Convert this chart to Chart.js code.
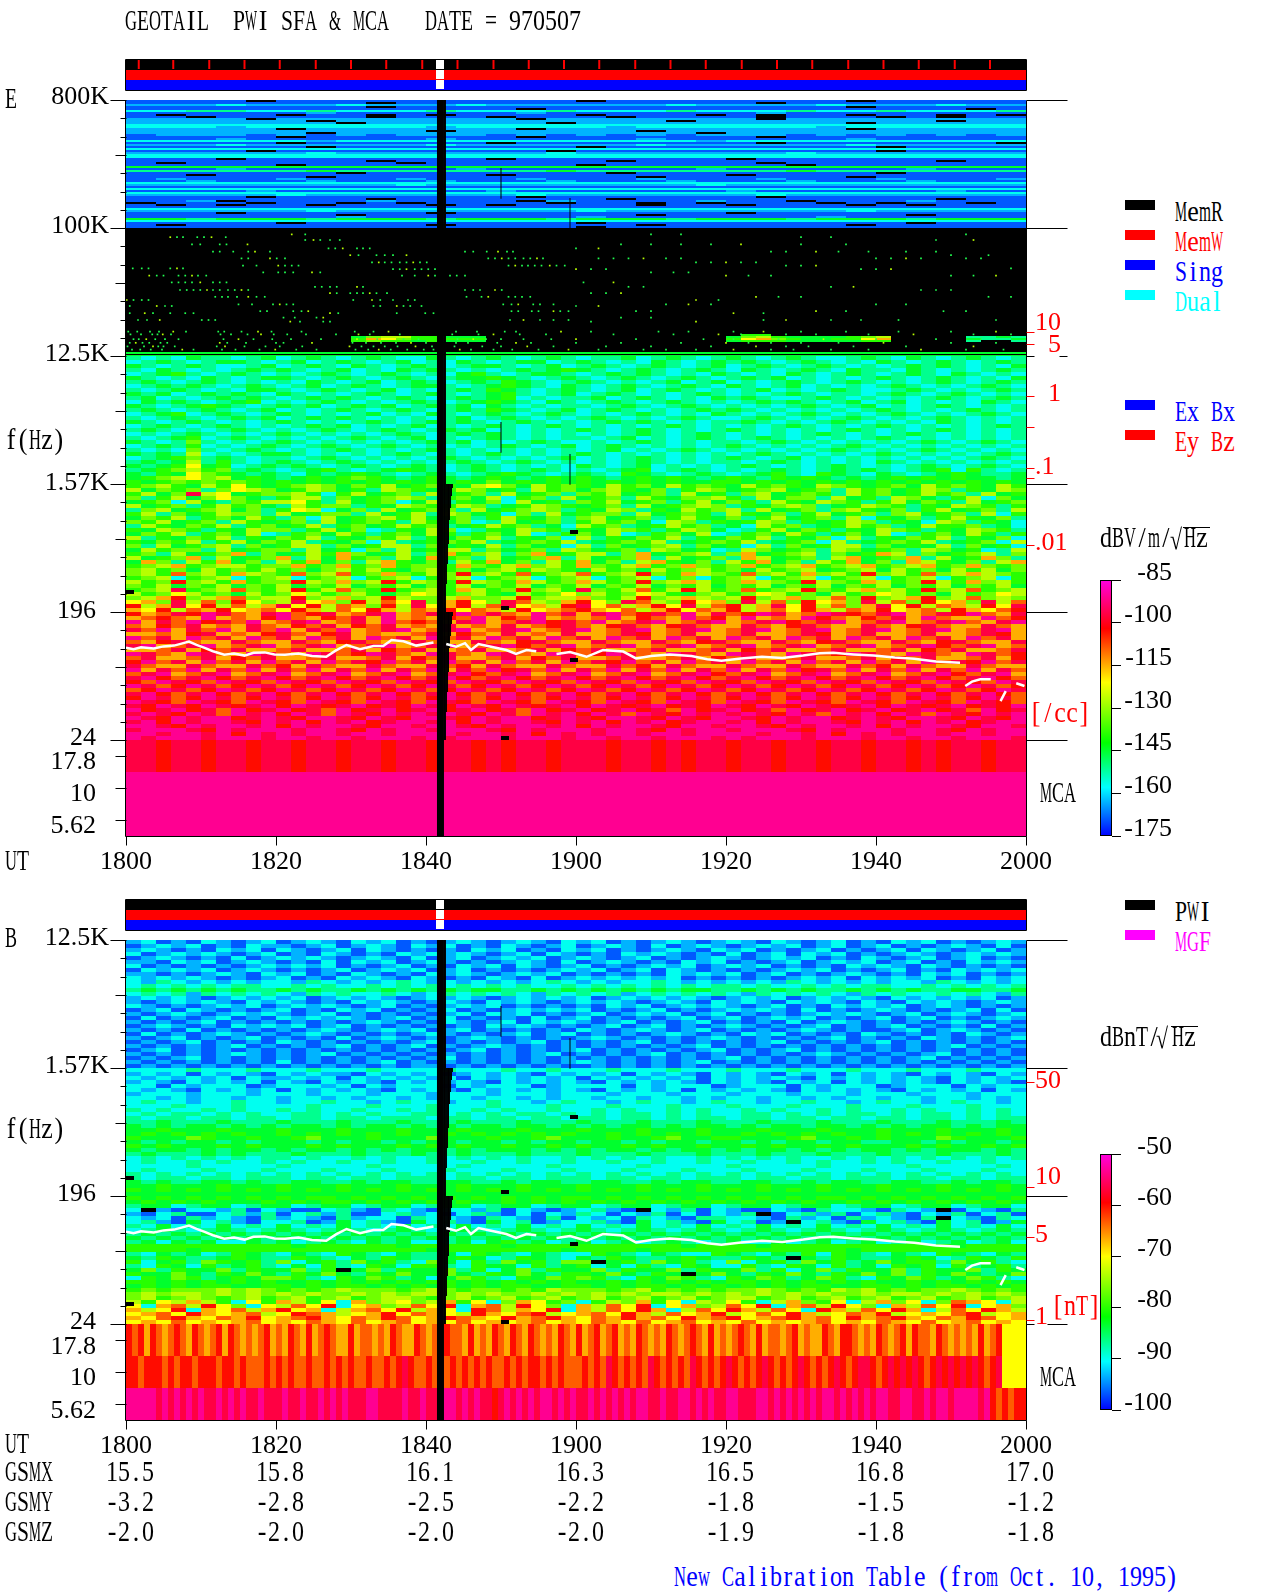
<!DOCTYPE html>
<html>
<head>
<meta charset="utf-8">
<title>GEOTAIL PWI SFA & MCA 970507</title>
<script src="https://cdn.jsdelivr.net/npm/chart.js@4"></script>
<style>
html, body { margin: 0; background: #fff; }
body { position: relative; width: 1280px; height: 1593px; overflow: hidden; }
canvas { position: absolute; left: 0; }
.txt { position: absolute; white-space: pre; font: 26px/26px 'Liberation Serif', serif; transform: scaleY(1.1); }
.txt span { display: inline-block; transform-origin: left center; }
.box { position: absolute; }
</style>
</head>
<body>
<canvas id="panel-e" width="1100" height="880" style="top:0"></canvas>
<canvas id="panel-b" width="1100" height="640" style="top:840px"></canvas>
<canvas id="bar-e" width="82" height="316" style="left:1090px;top:550px"></canvas>
<canvas id="bar-b" width="82" height="316" style="left:1090px;top:1124px"></canvas>
<script>
'use strict';

// Eje X: minutos desde 18:00. Eje Y: "canales", 1 canal = 4 px, 32 canales por banda SFA.
const utMinutes = [0, 20, 40, 60, 80, 100, 120];
const utLabels = ['1800', '1820', '1840', '1900', '1920', '1940', '2000'];
const gsmX = ['15.5', '15.8', '16.1', '16.3', '16.5', '16.8', '17.0'];
const gsmY = ['-3.2', '-2.8', '-2.5', '-2.2', '-1.8', '-1.5', '-1.2'];
const gsmZ = ['-2.0', '-2.0', '-2.0', '-2.0', '-1.9', '-1.8', '-1.8'];

const eFreqLabels = ['800K', '100K', '12.5K', '1.57K', '196  ', '24  ', '17.8  ', '10  ', '5.62  '];
const eFreqChannels = [-0.75, 31.5, 63.5, 95.75, 127.75, 159.5, 165.5, 173.5, 181.5];
const bFreqLabels = ['12.5K', '1.57K', '196  ', '24  ', '17.8  ', '10  ', '5.62  '];
const bFreqChannels = [-0.5, 31.5, 63.6, 95.5, 101.75, 109.5, 117.75];

const eDensityLabels = ['10', '  5', '  1', '.1', '.01'];
const eDensityChannels = [55.75, 61.25, 73.5, 91.75, 110.75];
const eDensityTicks = [58.1, 61.1, 74.1, 81.8, 92.1, 94.6, 111.3];
const bFieldLabels = ['50', '10', '5', '1'];
const bFieldChannels = [35.4, 59.4, 73.75, 94.25];
const bFieldTicks = [35.4, 61.75, 74.25, 95];

const eColorTicks = [-175, -160, -145, -130, -115, -100, -85];
const bColorTicks = [-100, -90, -80, -70, -60, -50];

// Rampa de color de la barra: fracción de la escala y color
const rampStops = [0, 0.19, 0.364, 0.6, 0.81, 1];
const rampColors = ['#0000ff', '#00ffff', '#00ff00', '#ffff00', '#ff0000', '#ff00e0'];

// Espectrogramas: cada carácter es un nivel 0-f de la escala, '.' es sin dato (negro)
const eHighRows = [
  '1111.1111111111.11111111.11111', '11111111.111111111111.11111111', '222322232223222222322223222322',
  '11111111.111111111111111.11111', '1111111111111.11111111111111.1', '334433433343334333433343343334',
  '111111211111121111111211111111', '1.111.11.1.1111.111.1.11.11.1.', '11.11111.111.111.1111.111.1.11',
  '2222.22222222.2222222.22222222', '222222.22222222222.22222222.22', '2222222.222222.222222222.22222',
  '333333333333333333333333333333', '333233333323333323333332333333', '22222.2222222.2222222222.22222',
  '2222222222.222222.222222222222', '222222.222222222222.2222222222', '122212121222121212122212121212',
  '11111.1111111.1111111.11111111', '111211111121111112111111211111', '333333233333333333323333333333',
  '11111.111111.11111111.1111111.', '222322222232222223222222322222', '111111.11111111.111111111.1111',
  '333333333333333333333333333333', '1111.111111111.1111111111.1111', '222222322222223222222232222222',
  '333333333333333333333333333333', '333333333333333333333333333333', '111.11111111.1111111.111111111',
  '11111111.1111111.1111111111.11', '1.1111111.11111111111.11111111', '11111.111111111.111111.1111111',
  '555555555555555555555555555555', '111211111112111111121111112111', '444444544444445444444454444444',
  '1111111.11111111.11111111.1111', '11.111111111.1111111.111111111', '111111.1111111111.111111.11111',
  '121112111211121112111211121112', '112111211121112111211121112111', '333333333333333333333333333333',
  '222222222322222222232222222222', '111111111111111111111111111111', '333333333333333333333333333333',
  '111121111111211111112111111211', '333333333333333333333333333333', '222223222222232222222322222222',
  '1111.11111111.1111111.11111111', '11111111.1111111.1111111111.11', '112.111121111.21111211.1112111',
  '.111.11.1.1111.11.1.111.1.11.1', '1.1.11.111.1.1111.11.111.1.111', '111111111111111111111111111111',
  '333333333333333333333333333333', '222222322222222322222222322222', '111.111111.111111111.111111111',
  '1111111.111111111.11111111.111', '111111121111111211111112111111', '554555455545554555455545554555',
  '333333333333333333333333333333', '11111.111111111.1111111111.111', '1.11111111.111111.111111.11111', '111111111111111.11111111111111'
];
const eWaveRows = [
  '.......... .......... .......... .......... .66....... ..........',
  '.......... .....57886 6555...... .......... 5786555567 8.....4454',
  '.......... .....6a976 6666...... .......... 69a7655669 a.....5445',
  '.......... .....67665 6555...... .......... 5666555556 6.....4..4'
];
const eLineRows = ['5', '5', '.', '5'];
const eNoiseRows = [
  '4343544345 3454345433 5434543454 3445345434 5434543345 4354345434',
  '3454345543 4534543453 4354345534 5434354345 4543454343 5434543454',
  '5434543345 3454354345 4345543453 4543454345 3454345434 3454543435',
  '4354343454 5434534354 5434345456 5434543454 3543454354 4354343454',
  '3456434543 4345434543 4356434554 3454543435 4343543454 3454354343',
  '5434354345 5434543454 3455654345 4345434543 4545343434 5434543435',
  '4543454343 4354345345 4345465434 5434345345 3434543454 3434543454',
  '3454543454 3453454345 5434565435 4345434543 5434534343 4543434543',
  '4345434355 4345434534 3454654345 4345345434 3453434543 3454343454',
  '5453454543 5434345434 5434564345 3454343454 3434543443 4543454343',
  '4534345454 3454543454 3454563434 4534543435 4543345434 3434543454',
  '3545434563 4345434345 4345654354 3454345434 3454543453 4534343543',
  '5434565434 5453454534 5453543434 4345434543 4343454345 3434543434',
  '4543454345 3434543454 3454654345 3454343454 5434343434 5434345434',
  '3456345434 5434345343 5434543454 3434543435 4343454343 4543434543',
  '4345434545 3454543434 3453454343 4543434543 3454343454 3434543434',
  '5434543434 5434345434 5454345434 3454543434 4543434543 4343543434',
  '3454345434 3454534345 3434543454 3434345434 3434543434 5434343454',
  '4543434543 4345434543 4545343434 5434543434 5434343454 3434543434',
  '3434543434 5434343454 3454543434 3434543454 3434345434 3454343434',
  '4345634543 4343454345 3434543434 4345343454 3454343434 5434343434',
  '5434743434 5434343434 5453434543 3434543434 4345434343 4345434543',
  '3454634345 4345434543 4343454345 3454343434 5434343454 3434343434',
  '4343743454 3434543434 5434343434 3453434543 4343434543 4345434343',
  '5454834345 5434343454 3434543434 5434343434 3454343434 5434343454',
  '3456745434 4345434343 4543434345 3434543434 5434534343 4343434543',
  '4545846434 5434543434 3454345434 3434543434 4345434343 5434343434',
  '5456956345 4543454345 4345434343 5434534343 4543434543 4345434543',
  '4567867454 3456434565 4345434543 4345634543 4345434545 4345636434',
  '5465976545 4354565434 5434565434 5436543454 3456436543 5434565445',
  '5678978565 4565676545 6545654565 6545656545 6546565454 5656565545',
  '6567676765 6565656565 6565756565 6565656556 6565656565 6565656565'
];
const eMidRows = [
  '6786586965 6787576856 7658975867 6586758676 5867658765 6758676586',
  '8576747987 5687564876 5687564867 5786574687 5678567486 7568746587',
  '6857d89567 7863685674 8567485674 7685674856 4785676486 7568674856',
  '7468579754 6884756787 4675836748 5674865778 6485774856 4875468375',
  '5673854768 8964856735 8465738564 7685674685 7648658764 6857648567',
  '8567468675 4867746587 6687456876 5674856787 4657874568 7646587646',
  '4785678574 6983574856 7748567874 6587465867 8485674786 5746856748',
  '6847568774 8567748568 4875637485 6774856764 8657468567 4785674836',
  '5768467586 4738567868 5674686574 7856746865 7468567483 6574686574',
  '7685674865 6748567648 6573485674 6867538746 5687465687 4653874653',
  '4865768467 5684675686 7456867453 8674568674 5386745686 7458667453',
  '6587646587 7468573465 8734658764 6587646875 3468576465 8764658764',
  '5768467583 4675864675 8646758346 7583467583 4675864675 8346758646',
  '8465768465 7684657684 6576846573 8465768465 7684657384 6576846573',
  '6576846857 6846573845 6768456768 4567684567 6845673845 6768456738',
  '7485678475 6884756884 7565847563 8475678475 6384756884 7565847563',
  '5867748567 7485637485 6884756748 7567487563 4875674875 6748756348',
  '6748567a47 5686a75684 7a67847a56 8847a56784 7a56784756 a847567847',
  '8567a48567 a485a67485 a6748567a4 8567a48567 4a856748a5 67a4856a74',
  '5a7486a574 86a5748a65 7486a57486 a5748a6574 86a57486a5 74a865748a',
  '678a678867 7a67a67a67 76a768a786 a768a67a76 7a678a678a 678a67a767',
  '7867586768 6757868657 8675786876 5867586786 7586785678 5867586857',
  '786b786a87 6b78b67a76 87c786b678 b678c76a87 6b786a786c 786b78a876',
  '6783678367 8367836783 6783678367 8367836736 7836783678 3678367836',
  '867c786a67 7c87a78c68 76c876a867 a867c78a86 7a876c876a 867c86a786',
  '7685768576 8576857685 7685768576 8576857685 7685768576 8576857685',
  '678d678b76 8c68b76c67 86a867c786 d768b68c86 7b678c768a 786c78b678',
  '8679867586 7986786579 8678658679 7867986578 6798675867 9867586798',
  '78ac78ab78 8c78a78c87 78a778c788 a768c78a87 8c78a78b7c 78ac78b787',
  '9a7d8b7c97 8d9a7c8b9d 7ac97db87a c97db87c9a 7d8b7c9a7d 8b7c9a7d8b',
  'c8ad9c8b8a d9c8ba7c8d 9ac8bd9a8c d9b8ac9d8b c8ad9c8b7a d9c8ba8c9d',
  'a9c8bac9ab 9ca8b9ca8b ac9ba8c9ab ca9b8ac9ba c8ab9ca8ba c9ab8ca9bc'
];
const eLowRows = [
  'cabdcedbad ebcdabdeab dcebdbaebd adebcdbead bcedabedcb deabdcebad',
  'abcbaeabac ebacbdaeab acbeacbeab abeacbaebc aeabaecbac bdaebaaebc',
  'eadbecdbea bdeabdaebc badeabdecd beabdeabde abdecbdeab deabdebade',
  'bacbdabadb acbdacbdab adabadabcd bacdbacdba adbacdbaad bacdbaadba',
  'dbeadbeadb eadbeabdea bdeabdeabd eabdeabdea bdeabdeabd eabdeabdea',
  'aabacdabac dbacdabaab dacbadabad aabdcabdaa bdaabdcabd aabdaabdca',
  'ebdaebdaeb daebdaebda ebdaebdaeb daebdaebda ebdaebdaeb daebdaebda',
  'bacdbaadba adbacdbaad baadbacdba adbaadbacd baadbacdba adbacdbaad',
  'deabdeabde abdeabdeab deabdecbde abdeabdeab deabdeabde abdecbdeab',
  'aabdacbdaa bdaabdacbd aabdaabdac bdaabdaabd acbdaabdaa bdacbdaabd',
  'edbaedbaed baedbcedba edbaedbaed bcedbaedba edbaedbced baedbaedbc',
  'bdaabdacbd aabdaabdac bdaabdacbd aabdaabdac bdaabdaabd acbdaabdac',
  'cebdaebdae bdaebdcebd aebdaebdae bdcebdaebd aebdaebdae bdaebdcebd',
  'dbaadbaadb cadbaadbaa dbcadbaadb aadbcadbaa dbaadbaadb cadbaadbaa',
  'eadbeadbea dbeadbeadb eadbecdbea dbeadbeadb eadbecdbea dbeadbeadb',
  'bdeabdeabd eabdeabdea bdecbdeabd eabdeabdec bdeabdeabd eabdecbdea',
  'decbdecbde cbdecbdecb decbdecbde cbdecbdecb decbdecbde cbdecbdecb',
  'cbedcbedcb edcbedcbed cbedcbedcb edcbedcbed cbedcbedcb edcbedcbed',
  'edbcedbced bcedbcedbc edbcedbced bcedbcedbc edbcedbced bcedbcedbc',
  'bcedbcedbc edbcedbced bcedbcedbc edbcedbced bcedbcedbc edbcedbced',
  'decbdecbde cbdecbdecb decbdecbde cbdecbdecb decbdecbde cbdecbdecb',
  'cedbcedbce dbcedbcedb cedbcedbce dbcedbcedb cedbcedbce dbcedbcedb',
  'edcbedcbed cbedcbedcb edcbedcbed cbedcbedcb edcbedcbed cbedcbedcb',
  'dcedcedcde cedcdecdce dcedcedcde cedcdecdce dcedcedcde cedcdecdce',
  'ecdecdbecd ecdbecdecd ecdecdbecd ecdecdbecd ecdbecdecd ecdecdbecd',
  'dedcedbede cedbedcede dedcedbede cedbedcede dedcedbede cedbedcede',
  'edcedeecde dceedcedce edcedeecde dceedcedce edcedeecde dceedcedce',
  'decedeedce decedecdee decedeedce decedecdee decedeedce decedecdee',
  'eedcedeede cedeedceed eedcedeede cedeedceed eedcedeede cedeedceed',
  'deeedcedee edeedcedee deeedcedee edeedcedee deeedcedee edeedcedee',
  'eedeedeced edeedeedee eedeedeced edeedeedee eedeedeced edeedeedee',
  'edeeedeeed eedeedeeed edeeedeeed eedeedeeed edeeedeeed eedeedeeed'
];
const eMcaRows = ['ddcddcddcd dcddcddcdd cddcdcddcd ddcddcdcdd cddcddcddc ddcdcddcdd'];
const eMcaLowRows = ['e', 'e'];

const bNoiseRows = [
  '2312132123 1232132312 1232123213 2312123212 3213212312 1323121232',
  '1232312132 2123123213 2312132123 1232131232 1232312312 3121232131',
  '2321213231 3212313212 1213231213 2312123213 2312123121 2313212312',
  '3123232123 1213212132 3232123132 1213232121 3123132312 1232123232',
  '1232121312 3232123213 1231232312 3212312123 2123231213 2123123121',
  '2213231232 1213132312 3212123213 1232121323 1212312323 1231213232',
  '3121212123 2323121231 2132313212 3121232312 3231212132 3213212121',
  '1323231232 1212312323 1231212123 2312313212 1212323121 2312132323',
  '2212123213 2312132121 3232123231 2121213232 3123121232 1213231212',
  '3232321212 3121323213 2121321312 3232323121 2121232313 2323121323',
  '3243232323 3243232343 2323232343 2323343232 3232432323 2332432323',
  '3434343443 3434334343 4343434334 3434343434 4343343434 4334343434',
  '4545454544 5454454545 4545544545 4545454554 4545454454 5454455445',
  '3434243434 3243433432 3434343243 4342343434 3243434324 3433434324',
  '2323212323 2312323212 3232123232 3123232321 2323123232 1323232312',
  '2123232132 3212132321 2321323212 3232123213 2321323213 2132321232',
  '3212123231 2323212312 1232312121 2132312323 2123121323 2312321212',
  '1231321212 3121323121 2312123232 3121231212 3232131212 3212123131',
  '2123212323 2123121212 1231323121 2312323123 1212123232 1231232123',
  '1312123121 3232321231 2312121312 3121212312 3123231212 3123121232',
  '2121231212 1212123212 1321231323 2123121231 2121312321 2121232121',
  '1232121323 2312312121 2121323212 1231231212 3212123121 2312121312',
  '2121312121 2123212323 1231212121 3212321231 2121232121 1231232121',
  '1312123212 1232121212 3212123123 1212123212 1323121213 2121213212',
  '2123121231 2121312321 2123212121 2321212123 2121212312 1213212123',
  '1212312121 3212121212 3121212312 1212312121 2123121212 3121212121',
  '2121212312 1212312123 1212321212 1212121231 2121212121 2121231212',
  '1231212121 2121212121 2123121212 3121212123 1212312121 2121212121',
  '2121212321 2123121212 1212121231 2121231212 1212123212 1212312121',
  '1212312121 2121212121 2312121212 1212121212 3121212121 2123121212',
  '2121212121 3121212312 1212121212 3212121231 2121212121 2121212121',
  '1212121212 1212121212 2121212121 1212121212 1212121212 1212121212'
];
const bMidRows = [
  '3333433343 3343334333 3433343343 3343334333 4333433343 3343334333',
  '2323132321 3232213232 3123232132 3231323213 2321323132 3213232132',
  '3232323132 2323132323 2313232323 1323232313 2323213232 3232132323',
  '2321323231 3213232132 3232132323 2132323213 2321323132 3232132321',
  '3313233312 3332313233 3132333123 3331323331 2333132333 1233313233',
  '3232132323 1323232132 3213232323 2132323132 3232132323 2132323132',
  '2333233323 3323332333 2333233323 3323332333 2333233323 3323332333',
  '3323233233 2332323323 2332332323 3233233232 3323323233 2332332323',
  '3433233433 2334332343 3233433234 3323433234 3323343323 4332343323',
  '3334333433 3343334333 4333433343 3343334333 4333433343 3343334333',
  '4343343433 4343343343 4334343343 3434334343 3434334343 3434334343',
  '3434434343 3443434334 4343434434 3434434343 3443434344 3434434343',
  '4344344344 3443443444 3443443443 4434434344 3443443443 4434434344',
  '4454445444 5444544454 4454445444 5444544454 4454445444 5444544454',
  '5454554545 4554545545 4545545545 4545545455 4545545545 4545545455',
  '5565556555 6555655565 5565556555 6555655565 5565556555 6555655565',
  '5656565655 6565656565 5656565656 5565656565 5656565655 6565656565',
  '6555765565 5675556555 7555655675 5565567556 6555675565 6555765556',
  '5454554545 5545455454 5545545455 4554545545 5454554554 4554545545',
  '6565556565 5565655565 6565565565 6556565565 5656556565 5565655656',
  '5455454554 5455454545 5454555454 5455454554 5455454545 5454555454',
  '4544454544 4544454445 4454445444 5444544454 4454445444 5444544454',
  '3434343434 4343343433 4343434334 3434343343 4343433434 3434343434',
  '3433434334 3433433433 4334334334 3343343343 3433434334 3433433433',
  '3333433333 4333334333 3343333343 3333433333 4333334333 3343333343',
  '3433343334 3334333433 3433343334 3334333433 3433343334 3334333433',
  '4343434343 4343434343 4343434343 4343434343 4343434343 4343434343',
  '4344344344 4344344344 4344344344 4344344344 4344344344 4344344344',
  '5454455454 4554454554 4554454554 4554454554 4554454554 4554454554',
  '5565556555 6555655565 5565556555 6555655565 5565556555 6555655565',
  '6565656565 6565656565 6565656565 6565656565 6565656565 6565656565',
  '5555555555 5555555555 5555555555 5555555555 5555555555 5555555555'
];
const bLowRows = [
  '6565656565 6566565656 5656565656 6565656565 6565656656 5656565656',
  '5656565556 5656656565 6565565656 5656565656 5656565565 6565656565',
  '4553455345 5345534553 4553455345 5345534553 4553455345 5345534553',
  '3.21332413 2113421432 1332413212 3421.32413 2113214332 1432.13214',
  '2134113424 1342411342 3134213132 4313241313 24.1342413 4213241341',
  '3231423214 2321423314 3321432141 3231432144 3321423142 3214.32143',
  '3421534213 3412534215 3421534123 3421534215 3412.34215 3421534125',
  '4353435343 5343534353 4353435343 5343534353 4353435343 5343534353',
  '3454345434 5434543454 3454345434 5434543454 3454345434 5434543454',
  '4545454545 4545454545 4545454545 4545454545 4545454545 4545454545',
  '5454545454 5454545454 5454545454 5454545454 5454545454 5454545454',
  '4535453354 5345435453 3453564534 5345345434 5335345345 3453453453',
  '6666666666 6566666656 6666656666 6666666566 6656666666 6666656666',
  '6666566666 6666666666 5666666665 6666566666 6666666656 6666666666',
  '4354534654 3543654354 4536543543 3654354336 5435463654 3543654354',
  '5465445654 4654354654 4565346543 5465445654 4654.54654 4565346546',
  '6356476564 7356475643 7536475647 7.56475643 7356475645 7566475643',
  '4365364564 3536436536 6436553645 6353643653 3643653645 3656364564',
  '5746557465 5746.57465 5746357465 5746557465 5746357465 5746557465',
  '6557546575 4657546575 5754657546 6575465.57 5465754657 5746575457',
  '3657645657 7643657645 3576436576 7643657643 6576457643 6576457643',
  '6656565656 5565656565 6656565656 5565656565 6656565656 5565656565',
  '5656566556 6565665656 5656566556 6565665656 5656566556 6565665656',
  '6767778787 6767877767 8767767687 7767867676 7787676878 6767787676',
  '7878878787 8787787878 8787877878 7878788787 8787878778 7887878787',
  '7867876786 7867867887 6786786786 7867867867 8867867867 8678678678',
  '8698a86396 a8693a7897 8a6937a967 3687a69387 9638a76938 a7937ba938',
  '93ab8c9739 8b9c39a78b 9c3ab8c973 a8b9c39a78 b9c3ab8c97 3a8b9c39a7',
  'a89c3a9b8a c9a38ab9c8 a93cb8a9c3 a8b9ca38b9 ca8b93ca8b 9ca38b9ca8',
  '9ab9ca9ab8 9cba89ac9b a98ca9bc89 ab9ca8b9ac 89b9ca89ba c89a9bc89a',
  'a9bca9bac9 abca9bacb9 acba9cabca 9bacab9cab c9abcab9ca bca9bacb9a',
  '9a9b9a9ab9 a9ba9b9ab9 a9b9a9ab9a 9ba9b9ab9a 9b9a9ab9a9 ba9b9ab9a9'
];
const bMcaRows = [
  'cbcacbabcb acbabcacba babcabacba cabcbaacab babacbaacb abacbbacab acbacbacba bacbacabca bcabacbaba cbabcbacab abcbacabba bcabaacbac cbabacbabc acbbacbaba bacabc9999',
  'ccbcccbcbc cbcccbccbc bbbcbcbcbb cbbcbcbcbb cbbcbcdcbb cbcbcbcbcb cbbcbcbccb cbcbbbcbcb dcbcbcbdcb cbcbdcbcbc dcbcbcdcbc bcdcbcbcdc bcddcbcdcd cdcbcdcdcd cdcbcd9999',
  'eeeeededed ededdedede ddedddedde ddedededdd eeddddedde dddeededed dcdededede edededdede dededeedde ddeedededd eedddeeded edededeede dededeedde eddedeedee eedecbcbcc'
];

// Puntos sueltos sobre la banda negra: canal de cada fila y minutos de cada punto
const eDotChannels = [33.6, 34.3, 35, 36.1, 37.1, 37.9, 38.8, 39.6, 40.6, 41.4, 42.1, 42.3, 43.1, 43.9, 45.6, 46.7, 47.5, 48.3, 49.2, 50, 51.1, 51.5, 52.8, 53.3, 54.4, 55, 55.4, 57.9, 58.6, 59.8, 60.7, 61.6, 62.4];
const eDotMinutes = [
  [22.1, 23.9, 70, 74, 112], [5.9, 6.8, 7.6, 9.5, 10.4, 11.4, 13.3, 90, 94], [23.9, 25, 25.9, 27.2, 28.5, 108, 113],
  [8.8, 9.9, 12.5, 13.4, 16.2, 66, 70, 74, 78, 82, 90, 96], [27, 27.9, 28.9, 30.8, 31.6, 32.5, 60, 63], [11.6, 12.5, 14.3, 16.3, 17.2, 19.2, 45.2, 46.3, 48.1, 49.6, 50.8, 51.6, 86, 88, 92, 95, 99, 104, 108],
  [29.9, 31, 33.4, 34.5, 35.6, 37.4, 110, 115], [15.4, 16.3, 19.2, 20.1, 21.2, 48.3, 49.2, 50.1, 51, 51.9, 53, 53.9, 54.8, 55.6, 63, 65, 67, 69, 72, 74, 100, 102, 104, 106, 112, 114],
  [32.8, 33.7, 34.5, 35.4, 36.5, 37.4, 38.3, 39.2, 40.1, 76, 78, 80, 82, 84], [15.6, 17.4, 20.3, 21.2, 22.1, 23, 51, 51.9, 52.8, 53.6, 54.5, 55.4, 56.5, 57.4, 58.5, 88, 90, 92],
  [0.9, 2.1, 3, 5.9, 6.8, 7.6, 118], [35.6, 36.5, 37.4, 38.5, 39.4, 40.3, 41.2, 60, 62, 64, 98, 100, 102], [18.3, 20.3, 21.2, 22.3, 24.8, 25.9, 70, 73, 75],
  [3.1, 4.1, 5, 7, 7.9, 8.8, 9.6, 10.7, 36.8, 38.5, 40.3, 41.2, 43.2, 44.1, 45.2, 80, 83, 86, 110, 113, 116], [6.1, 7, 7.9, 8.8, 9.9, 11.6, 12.5, 13.4, 61, 65], [25.2, 26.1, 27.2, 28.1, 30.8, 31.6, 67, 69, 94, 97],
  [7.2, 8.1, 9, 9.9, 10.8, 11.6, 12.5, 13.6, 14.5, 15.4, 16.3, 45.2, 46.3, 47.2, 49.2, 50.1, 106, 108, 110], [27.2, 28.1, 29.9, 30.8, 31.6, 32.5, 33.4, 34.8, 62, 64, 66], [11.9, 12.8, 13.6, 14.8, 16.3, 17.4, 18.5, 45.4, 47.4, 48.3, 51, 51.9, 52.8, 53.9, 84, 87, 90, 115, 118],
  [0.1, 1, 2.1, 3, 30.3, 32.8, 33.9, 35.6, 37.6, 38.5, 76, 79], [15, 16.8, 19.6, 20.5, 21.4, 22.3, 50.3, 51.4, 52.3, 54.3, 55.2, 57, 72, 75, 78, 100, 104], [0.5, 4.1, 5.2, 6.1, 33, 33.9, 36.1, 37, 37.9, 39.4, 60, 63],
  [17.9, 18.8, 22.3, 23.4, 24.3, 51.4, 52.3, 54.1, 55, 57, 57.9, 59, 68, 70, 92, 96, 109, 112], [0.5, 2.5, 3.6, 5.9, 7.9, 9, 27.2, 28.3, 36.1, 39.9, 41, 81, 85], [21, 22.5, 25.4, 26.3, 66, 70],
  [1.6, 2.8, 4.5, 10.1, 11, 11.9, 51.2, 53, 55.2, 57, 59, 85, 88, 94, 98, 103, 116], [21.9, 23.2, 26.3, 27.2, 62, 76],
  [0.3, 1.5, 3.2, 4.4, 6.3, 8, 12.3, 13.1, 15.4, 17.6, 19.4, 23.4, 30.5, 33, 35, 44, 46.8, 50.5, 52, 58, 62, 71, 75, 81, 85, 90, 96, 103, 110, 116],
  [0.6, 2, 3.5, 4.2, 4.9, 6, 12.6, 14, 16.2, 18, 19.7, 21.5, 24, 28, 31, 32.5, 36.5, 43.5, 47, 49, 52.5, 56, 65, 73, 79, 82, 88, 92, 99, 105, 113, 118],
  [1, 1.7, 2.7, 3.9, 5.2, 7, 13, 15, 17, 19.5, 22, 26, 30.8, 33.5, 37, 39, 44.2, 46.3, 48, 50, 53, 56.7, 60, 68, 77, 81, 87, 93, 100, 108, 114],
  [0.5, 1.3, 2.2, 3.1, 4.6, 5.5, 12.5, 13.5, 16, 20, 21, 24.8, 30.2, 32, 34, 36, 38, 40, 44, 45.6, 49.5, 52, 54, 60, 66, 74, 80, 83, 86, 90, 95, 101, 110, 116],
  [0.2, 2.4, 3.6, 4.3, 5, 6.5, 12.1, 13.2, 15.8, 18.6, 20.5, 23.5, 29.8, 31.4, 33, 34.5, 36.2, 38.6, 40.8, 43.8, 47.5, 50, 53.5, 57, 64, 70, 78, 84, 88, 91, 97, 104, 113],
  [0.8, 1.9, 3.3, 4.8, 7.5, 9, 12.8, 14.6, 17.8, 19.9, 22.7, 25.4, 30.6, 32.3, 33.7, 35.3, 37.5, 39.7, 41, 44.5, 46, 49, 51.5, 55, 59, 63, 69, 72, 76, 81, 86, 89, 94, 99, 106, 112, 117]
];

// Traza blanca (frecuencia de plasma): minutos y canales por debajo de la línea de 196 Hz
const traceMinutes = [0, 1, 2, 3.7, 5, 6.4, 7.4, 8.4, 9.4, 10.4, 11.6, 13.1, 14.4, 15.8, 17, 18.5, 19.8, 21.2, 23, 24.8, 26.7, 28, 29.4, 31.2, 33, 34.3, 35.4, 37, 38.7, 41, 41.4, 42.7, 44, 45.2, 46, 47, 49, 50.7, 52, 53.4, 54.7, 55.6, 57.4, 59.2, 61.4, 63.6, 66.3, 68, 70, 72.5, 75.4, 77.5, 79.4, 82, 84.8, 87.5, 90.3, 92.5, 94.3, 97, 99.7, 102.5, 105.1, 108, 111.2, 111.3, 111.9, 112.8, 113.9, 115.3, 115.4, 116.6, 117.3, 117.4, 118.7, 119.8];
const traceOffsets = [8.9, 9.3, 8.8, 9.1, 8.6, 8.4, 7.9, 7.4, 8.2, 8.9, 9.8, 10.7, 10.4, 10.9, 10.2, 10.1, 10.6, 10.7, 10.4, 11, 11.2, 9.6, 8.25, 9.3, 8.5, 8.5, 7, 7.3, 8.4, 7.6, null, 8, 8.7, 7.8, 9.5, 8, 8.8, 9.5, 10.5, 9.5, 9.8, null, 10.5, 10, 11.2, 9.5, 9.9, 11.6, 11, 10.6, 11, 11.8, 12.2, 11.6, 11.2, 11.5, 10.9, 10.3, 10.2, 10.6, 10.9, 11.4, 11.7, 12.4, 12.7, null, 18.5, 17.4, 16.8, 16.8, null, 22.3, 19.8, null, 17.8, 18.5];

// Hueco de datos y marcas negras
const gapWedgeMinutes = [42.73, 42.87, 43, 43.13, 43.27, 43.4, 43.53];
const gapWedgeDepths = [25, 20, 15, 9, 6, 3, 1];
const statusTickMinutes = [1.7, 6.3, 11.1, 15.8, 20.5, 25.3, 30, 34.7, 39.5, 44.2, 49, 53.7, 58.4, 63.1, 67.9, 72.6, 77.3, 82.1, 86.8, 91.5, 96.3, 101, 105.7, 110.5, 115.2];
const eBlockMinutes = [0.53, 50.53, 59.73, 59.73, 50.53];
const eBlockChannels = [122.5, 126.5, 107.5, 139.5, 159];
const bBlockMinutes = [0.53, 50.53, 59.73, 59.73, 50.53, 0.53];
const bBlockChannels = [59, 62.5, 43.75, 75.5, 95, 90.5];
const spikeMinutes = [50, 59.2];
const eSpikeStarts = [[17, 80.5], [24.5, 88.5]];
const bSpikeStarts = [[16.5], [24.5]];

const fontName = "'Liberation Serif', serif";

function fillRamp(frac) {
  let i = 0;
  while (i < rampStops.length - 2 && frac > rampStops[i + 1]) i++;
  const t = (frac - rampStops[i]) / (rampStops[i + 1] - rampStops[i]);
  const a = hexToRgb(rampColors[i]);
  const b = hexToRgb(rampColors[i + 1]);
  return 'rgb(' + a.map(function (v, k) { return Math.round(v + (b[k] - v) * t); }).join(',') + ')';
}

function hexToRgb(h) {
  return [1, 3, 5].map(function (p) { return parseInt(h.substr(p, 2), 16); });
}

function levelColor(ch) {
  if (ch === '.') return '#000000';
  return fillRamp(parseInt(ch, 16) / 15);
}

// Convierte filas de niveles en barras flotantes de un dataset
function cellDataset(rows, firstChannel, rowHeight, colMinutes) {
  const data = [];
  const colors = [];
  rows.forEach(function (row, r) {
    const cells = row.replace(/ /g, '');
    for (let c = 0; c < cells.length; c++) {
      data.push({ x: (c + 0.5) * colMinutes, y: [firstChannel + r * rowHeight, firstChannel + (r + 1) * rowHeight] });
      colors.push(levelColor(cells[c]));
    }
  });
  return solidBars(data, colors, colMinutes * 7.5);
}

function solidBars(data, color, thickness) {
  return {
    type: 'bar',
    data: data,
    backgroundColor: color,
    barThickness: thickness,
    grouped: false,
    inflateAmount: 0,
    borderWidth: 0
  };
}

function statusDatasets(withTicks) {
  const list = [];
  list.push(solidBars([
    { x: 41.87, y: [-10.25, -7.75] },
    { x: 41.87, y: [-7.5, -5.25] },
    { x: 41.87, y: [-5, -2.75] }
  ], '#ffffff', 8));
  if (withTicks) {
    list.push(solidBars(statusTickMinutes.map(function (m) {
      return { x: m, y: [-10, -7.75] };
    }), '#ff0000', 2));
  }
  list.push(solidBars([{ x: 60, y: [-10.25, -7.5] }], '#000000', 900));
  list.push(solidBars([{ x: 60, y: [-7.5, -5] }], '#ff0000', 900));
  list.push(solidBars([{ x: 60, y: [-5, -2.5] }], '#0000ff', 900));
  return list;
}

function gapDatasets(bottom, upperBottom, wedgeStarts) {
  const list = [solidBars([{ x: 41.93, y: [0, bottom] }], '#000000', 7)];
  list.push(solidBars([{ x: 42.53, y: [0, upperBottom] }], '#000000', 2));
  wedgeStarts.forEach(function (start) {
    list.push(solidBars(gapWedgeMinutes.map(function (m, i) {
      return { x: m, y: [start, start + gapWedgeDepths[i]] };
    }), '#000000', 1));
  });
  return list;
}

function traceDataset(line196) {
  return {
    type: 'line',
    data: traceMinutes.map(function (m, i) {
      return { x: m, y: traceOffsets[i] === null ? null : line196 + traceOffsets[i] };
    }),
    borderColor: '#ffffff',
    borderWidth: 2.5,
    pointRadius: 0,
    tension: 0,
    spanGaps: false
  };
}

function blockDataset(minutes, channels) {
  return solidBars(minutes.map(function (m, i) {
    return { x: m, y: [channels[i], channels[i] + 1] };
  }), '#000000', 8);
}

function spikeDataset(starts, lengths) {
  const data = [];
  starts.forEach(function (list, k) {
    list.forEach(function (s) {
      data.push({ x: spikeMinutes[k], y: [s, s + lengths] });
    });
  });
  return solidBars(data, '#000000', 1);
}

function dotDataset() {
  const data = [];
  eDotChannels.forEach(function (ch, i) {
    eDotMinutes[i].forEach(function (m) {
      data.push({ x: m, y: ch });
    });
  });
  return {
    type: 'scatter',
    data: data,
    pointStyle: 'rect',
    pointRadius: 1.2,
    pointBorderWidth: 0,
    backgroundColor: data.map(function (d, i) { return i % 5 === 0 ? '#b8ff00' : '#20ff50'; })
  };
}

// Marcas de eje, marco y líneas de banda
function framePlugin(cfg) {
  return {
    id: 'frame',
    afterDatasetsDraw: function (chart) {
      const ctx = chart.ctx;
      const x = chart.scales.x;
      const y = chart.scales.y;
      const L = Math.round(x.getPixelForValue(0));
      const R = Math.round(x.getPixelForValue(120));
      const bottom = Math.round(y.getPixelForValue(cfg.maxChannel));
      function seg(x0, y0, x1, y1, color) {
        ctx.strokeStyle = color;
        ctx.lineWidth = 1;
        ctx.beginPath();
        ctx.moveTo(x0 + 0.5, y0 + 0.5);
        ctx.lineTo(x1 + 0.5, y1 + 0.5);
        ctx.stroke();
      }
      ctx.save();
      const topFrame = Math.round(y.getPixelForValue(0));
      seg(L - 1, topFrame, L - 1, bottom, '#000');
      seg(R, topFrame, R, bottom, '#000');
      seg(L - 1, bottom, R, bottom, '#000');
      const sTop = Math.round(y.getPixelForValue(-10.25));
      const sBot = Math.round(y.getPixelForValue(-2.5));
      seg(L - 1, sTop, R, sTop, '#000');
      seg(L - 1, sBot, R, sBot, '#000');
      seg(L - 1, sTop, L - 1, sBot, '#000');
      seg(R, sTop, R, sBot, '#000');
      cfg.majorChannels.forEach(function (ch) {
        const py = Math.round(y.getPixelForValue(ch));
        seg(L - 16, py, L, py, '#000');
        const gap = cfg.rightGaps[ch];
        if (gap) {
          seg(R, py, R + gap[0], py, '#000');
          seg(R + gap[1], py, R + 41, py, '#000');
        } else {
          seg(R, py, R + 41, py, '#000');
        }
      });
      cfg.minorChannels.forEach(function (ch) {
        const py = Math.round(y.getPixelForValue(ch));
        seg(L - 6, py, L, py, '#000');
      });
      cfg.mediumChannels.forEach(function (ch) {
        const py = Math.round(y.getPixelForValue(ch));
        seg(L - 11, py, L, py, '#000');
      });
      cfg.redTicks.forEach(function (ch) {
        const py = Math.round(y.getPixelForValue(ch));
        seg(R, py, R + 8, py, '#ff0000');
      });
      utMinutes.forEach(function (m) {
        const px = Math.round(x.getPixelForValue(m));
        seg(px, bottom, px, bottom + 9, '#000');
      });
      ctx.restore();
    }
  };
}

function bandMinorTicks(starts, offsets) {
  const list = [];
  starts.forEach(function (s) {
    offsets.forEach(function (o) { list.push(s + o); });
  });
  return list;
}

function makePanel(id, cfg) {
  const canvas = document.getElementById(id);
  return new Chart(canvas.getContext('2d'), {
    type: 'bar',
    data: { datasets: cfg.datasets },
    plugins: [framePlugin(cfg)],
    options: {
      responsive: false,
      animation: false,
      devicePixelRatio: 1,
      events: [],
      layout: { padding: { top: cfg.topPad, left: 0, right: 0, bottom: 0 } },
      plugins: { legend: { display: false }, tooltip: { enabled: false } },
      scales: {
        x: {
          type: 'linear',
          offset: false,
          min: 0,
          max: 120,
          grid: { display: false },
          border: { display: false },
          afterBuildTicks: function (s) {
            s.ticks = utMinutes.map(function (v) { return { value: v }; });
          },
          afterFit: function (s) { s.height = canvas.height - cfg.bottomPx; },
          ticks: {
            autoSkip: false,
            maxRotation: 0,
            padding: 3,
            color: '#000',
            font: { family: fontName, size: 26 },
            callback: function (v, i) { return utLabels[i]; }
          }
        },
        y: {
          type: 'linear',
          reverse: true,
          min: -10.25,
          max: cfg.maxChannel,
          grid: { display: false, drawTicks: false },
          border: { display: false },
          afterBuildTicks: function (s) {
            s.ticks = cfg.freqChannels.map(function (v) { return { value: v }; });
          },
          afterFit: function (s) { s.width = 126; },
          ticks: {
            autoSkip: false,
            padding: 17,
            color: '#000',
            font: { family: fontName, size: 26 },
            callback: function (v, i) { return cfg.freqLabels[i]; }
          }
        },
        y2: {
          type: 'linear',
          position: 'right',
          reverse: true,
          min: -10.25,
          max: cfg.maxChannel,
          grid: { display: false, drawTicks: false },
          border: { display: false },
          afterBuildTicks: function (s) {
            s.ticks = cfg.rightChannels.map(function (v) { return { value: v }; });
          },
          afterFit: function (s) { s.width = canvas.width - 1026; },
          ticks: {
            autoSkip: false,
            padding: 9,
            color: '#ff0000',
            font: { family: fontName, size: 26 },
            callback: function (v, i) { return cfg.rightLabels[i]; }
          }
        }
      }
    }
  });
}

function makeColorbar(id, tickValues) {
  const canvas = document.getElementById(id);
  const lo = tickValues[0];
  const hi = tickValues[tickValues.length - 1];
  return new Chart(canvas.getContext('2d'), {
    type: 'bar',
    data: {
      labels: [''],
      datasets: [{
        data: [[lo, hi]],
        barPercentage: 1,
        categoryPercentage: 1,
        borderColor: '#000',
        borderWidth: 1,
        borderSkipped: false,
        inflateAmount: 0,
        backgroundColor: function (ctx) {
          const area = ctx.chart.chartArea;
          if (!area) return '#000';
          const g = ctx.chart.ctx.createLinearGradient(0, area.bottom, 0, area.top);
          rampStops.forEach(function (s, i) { g.addColorStop(s, rampColors[i]); });
          return g;
        }
      }]
    },
    options: {
      responsive: false,
      animation: false,
      devicePixelRatio: 1,
      events: [],
      layout: { padding: { top: 30, left: 10, right: 0, bottom: 30 } },
      plugins: { legend: { display: false }, tooltip: { enabled: false } },
      scales: {
        x: { display: false },
        y: {
          type: 'linear',
          position: 'right',
          min: lo,
          max: hi,
          grid: { drawOnChartArea: false, tickLength: 9, tickColor: '#000' },
          border: { display: false },
          afterBuildTicks: function (s) {
            s.ticks = tickValues.map(function (v) { return { value: v }; });
          },
          afterFit: function (s) { s.width = canvas.width - 22; },
          ticks: {
            autoSkip: false,
            crossAlign: 'far',
            padding: 5,
            labelOffset: -7,
            color: '#000',
            font: { family: fontName, size: 26 },
            callback: function (v) { return String(v); }
          }
        }
      }
    }
  });
}

// Texto HTML en rejilla de 12 px por carácter, como la fuente original
const measureCtx = document.createElement('canvas').getContext('2d');
measureCtx.font = "26px 'Liberation Serif'";

function putText(text, x, yCenter, color) {
  const el = document.createElement('div');
  el.className = 'txt';
  el.style.left = x + 'px';
  el.style.top = (yCenter - 13) + 'px';
  el.style.color = color || '#000';
  text.split('').forEach(function (ch) {
    const s = document.createElement('span');
    const w = measureCtx.measureText(ch).width;
    s.textContent = ch;
    s.style.width = w + 'px';
    if (w > 12) {
      s.style.transform = 'scaleX(' + (12 / w).toFixed(3) + ')';
      s.style.marginRight = (12 - w) + 'px';
    } else {
      s.style.marginLeft = ((12 - w) / 2) + 'px';
      s.style.marginRight = ((12 - w) / 2) + 'px';
    }
    el.appendChild(s);
  });
  document.body.appendChild(el);
}

function putBox(x, y, w, h, color) {
  const el = document.createElement('div');
  el.className = 'box';
  el.style.cssText = 'left:' + x + 'px;top:' + y + 'px;width:' + w + 'px;height:' + h + 'px;background:' + color;
  document.body.appendChild(el);
}

const sfaOffsets = [4.6, 9.2, 18.3, 22.9, 27.4];
const sfaMedium = [13.8];

makePanel('panel-e', {
  topPad: 59,
  bottomPx: 836,
  maxChannel: 184,
  freqLabels: eFreqLabels,
  freqChannels: eFreqChannels,
  rightLabels: eDensityLabels,
  rightChannels: eDensityChannels,
  redTicks: eDensityTicks,
  majorChannels: [0, 32, 64, 96, 128, 160],
  minorChannels: bandMinorTicks([0, 32, 64, 96, 128], sfaOffsets),
  mediumChannels: bandMinorTicks([0, 32, 64, 96, 128], sfaMedium).concat([164, 172, 180]),
  rightGaps: { 64: [8, 33] },
  datasets: [traceDataset(128)]
    .concat(statusDatasets(true))
    .concat([blockDataset(eBlockMinutes, eBlockChannels), spikeDataset(eSpikeStarts, 7.7)])
    .concat(gapDatasets(184, 160, [96, 128]))
    .concat([dotDataset()])
    .concat([
      cellDataset(eLineRows, 63, 0.25, 120),
      cellDataset(eWaveRows, 58.5, 0.5, 2),
      cellDataset(['.'], 32, 32, 120),
      cellDataset(eHighRows, 0, 0.5, 4),
      cellDataset(eNoiseRows, 64, 1, 2),
      cellDataset(eMidRows, 96, 1, 2),
      cellDataset(eLowRows, 128, 1, 2),
      cellDataset(eMcaRows, 160, 8, 2),
      cellDataset(eMcaLowRows, 168, 8, 120)
    ])
});

makePanel('panel-b', {
  topPad: 59,
  bottomPx: 580,
  maxChannel: 120,
  freqLabels: bFreqLabels,
  freqChannels: bFreqChannels,
  rightLabels: bFieldLabels,
  rightChannels: bFieldChannels,
  redTicks: bFieldTicks,
  majorChannels: [0, 32, 64, 96],
  minorChannels: bandMinorTicks([0, 32, 64], sfaOffsets),
  mediumChannels: bandMinorTicks([0, 32, 64], sfaMedium).concat([100, 108, 116]),
  rightGaps: { 96: [8, 21] },
  datasets: [traceDataset(64)]
    .concat(statusDatasets(false))
    .concat([blockDataset(bBlockMinutes, bBlockChannels), spikeDataset(bSpikeStarts, 7.7)])
    .concat(gapDatasets(120, 96, [32, 64]))
    .concat([
      cellDataset(bNoiseRows, 0, 1, 2),
      cellDataset(bMidRows, 32, 1, 2),
      cellDataset(bLowRows, 64, 1, 2),
      cellDataset(bMcaRows, 96, 8, 0.8)
    ])
});

makeColorbar('bar-e', eColorTicks);
makeColorbar('bar-b', bColorTicks);

// Títulos, leyendas y filas de posición
putText('GEOTAIL  PWI SFA & MCA   DATE = 970507', 125, 21);
putText('E', 5, 99);
putText('f(Hz)', 5, 440);
putText('UT', 5, 861);
putText('B', 5, 938);
putText('f(Hz)', 5, 1129);
putText('UT', 5, 1444);
putText('GSMX', 5, 1472);
putText('GSMY', 5, 1502);
putText('GSMZ', 5, 1532);
[gsmX, gsmY, gsmZ].forEach(function (row, r) {
  row.forEach(function (v, i) {
    putText(v, 106 + i * 150, 1472 + r * 30);
  });
});

putBox(1125, 200, 30, 10, '#000000');
putBox(1125, 230, 30, 10, '#ff0000');
putBox(1125, 260, 30, 10, '#0000ff');
putBox(1125, 290, 30, 10, '#00ffff');
putBox(1125, 400, 30, 10, '#0000ff');
putBox(1125, 430, 30, 10, '#ff0000');
putBox(1125, 900, 30, 10, '#000000');
putBox(1125, 930, 30, 10, '#ff00ff');
putText('MemR', 1175, 212, '#000000');
putText('MemW', 1175, 242, '#ff0000');
putText('Sing', 1175, 272, '#0000ff');
putText('Dual', 1175, 302, '#00ffff');
putText('Ex Bx', 1175, 412, '#0000ff');
putText('Ey Bz', 1175, 442, '#ff0000');
putText('PWI', 1175, 912, '#000000');
putText('MGF', 1175, 942, '#ff00ff');

putText('dBV/m/', 1100, 538);
putText('\u221A', 1170, 540);
putText('Hz', 1184, 538);
putBox(1183, 527, 27, 1, '#000');
putText('dBnT/', 1100, 1037);
putText('\u221A', 1156, 1039);
putText('Hz', 1172, 1037);
putBox(1171, 1026, 27, 1, '#000');

putText('[/cc]', 1030, 713, '#ff0000');
putText('[nT]', 1052, 1306, '#ff0000');
putText('MCA', 1040, 793);
putText('MCA', 1040, 1377);
putText('New Calibration Table (from Oct. 10, 1995)', 674, 1577, '#0000ff');
</script>
</body>
</html>
